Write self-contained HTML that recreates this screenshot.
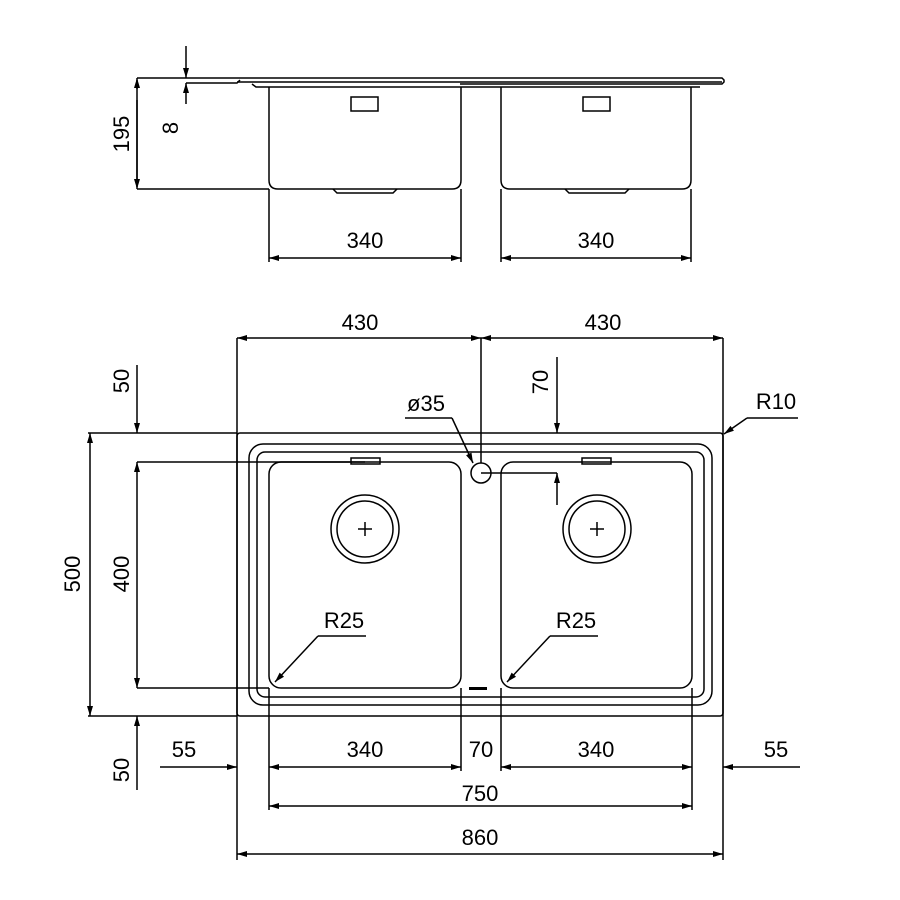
<!DOCTYPE html>
<html><head><meta charset="utf-8"><style>html,body{margin:0;padding:0;background:#fff}svg{display:block}</style></head>
<body>
<svg width="900" height="900" viewBox="0 0 900 900" xmlns="http://www.w3.org/2000/svg" font-family="Liberation Sans, sans-serif" font-size="22" fill="none" stroke="#000" stroke-width="1.5">
<defs>
<marker id="a" viewBox="0 0 10 6" refX="10" refY="3" markerWidth="12" markerHeight="6" markerUnits="userSpaceOnUse" orient="auto-start-reverse"><path d="M0,0 L10,3 L0,6 Z" fill="#000" stroke="none"/></marker>
</defs>
<!-- TOP VIEW -->
<path d="M186,78 H722 L724,80 V82 L722,84 H460"/>
<path d="M186,83 H237 L240,80"/>
<path d="M237,82 H722"/>
<path d="M252,84 L256,87 H700"/>
<path d="M269,87 V180 Q269,189 278,189 H452 Q461,189 461,180 V87"/>
<path d="M333,189 L337,193 H393 L397,189"/>
<rect x="351" y="97" width="27" height="14"/>
<path d="M501,87 V180 Q501,189 510,189 H682 Q691,189 691,180 V87"/>
<path d="M565,189 L569,193 H625 L629,189"/>
<rect x="583" y="97" width="27" height="14"/>
<!-- top dims -->
<path d="M137,78 H186 M137,189 H269"/>
<line x1="137" y1="89" x2="137" y2="78" marker-end="url(#a)"/>
<line x1="137" y1="100" x2="137" y2="189" marker-end="url(#a)"/>
<line x1="137" y1="80" x2="137" y2="187"/>
<line x1="186" y1="46" x2="186" y2="78" marker-end="url(#a)"/>
<line x1="186" y1="104" x2="186" y2="83" marker-end="url(#a)"/>
<path d="M269,189 V262 M461,189 V262 M501,189 V262 M691,189 V262"/>
<line x1="269" y1="258" x2="461" y2="258" marker-start="url(#a)" marker-end="url(#a)"/>
<line x1="501" y1="258" x2="691" y2="258" marker-start="url(#a)" marker-end="url(#a)"/>
<g fill="#000" stroke="none">
<text x="365" y="248" text-anchor="middle">340</text>
<text x="596" y="248" text-anchor="middle">340</text>
<text transform="translate(129,134) rotate(-90)" text-anchor="middle">195</text>
<text transform="translate(178,128) rotate(-90)" text-anchor="middle">8</text>
</g>
<!-- PLAN VIEW -->
<rect x="237" y="433" width="486" height="283" rx="3"/>
<rect x="249" y="444" width="463" height="261" rx="14"/>
<rect x="257" y="452" width="447" height="245" rx="8"/>
<rect x="269" y="462" width="192" height="226" rx="12"/>
<rect x="501" y="462" width="191" height="226" rx="12"/>
<circle cx="481" cy="473" r="10"/>
<circle cx="365" cy="529" r="34"/><circle cx="365" cy="529" r="28"/>
<path d="M358,529 H372 M365,522 V536"/>
<circle cx="597" cy="529" r="34"/><circle cx="597" cy="529" r="28"/>
<path d="M590,529 H604 M597,522 V536"/>
<rect x="351" y="458" width="29" height="6"/>
<rect x="582" y="458" width="29" height="6"/>
<rect x="469" y="687" width="18" height="3" fill="#000" stroke="none"/>
<!-- plan dims -->
<path d="M237,338 V860 M723,338 V860 M481,338 V463"/>
<line x1="237" y1="338" x2="481" y2="338" marker-start="url(#a)" marker-end="url(#a)"/>
<line x1="481" y1="338" x2="723" y2="338" marker-start="url(#a)" marker-end="url(#a)"/>
<path d="M88,433 H237 M88,716 H237 M137,462 H365 M137,688 H269"/>
<line x1="90" y1="433" x2="90" y2="716" marker-start="url(#a)" marker-end="url(#a)"/>
<line x1="137" y1="462" x2="137" y2="688" marker-start="url(#a)" marker-end="url(#a)"/>
<line x1="137" y1="365" x2="137" y2="433" marker-end="url(#a)"/>
<line x1="137" y1="790" x2="137" y2="716" marker-end="url(#a)"/>
<path d="M481,473 H557"/>
<line x1="557" y1="357" x2="557" y2="433" marker-end="url(#a)"/>
<line x1="557" y1="505" x2="557" y2="473" marker-end="url(#a)"/>
<path d="M269,688 V810 M461,688 V771 M501,688 V771 M692,688 V810"/>
<line x1="160" y1="767" x2="237" y2="767" marker-end="url(#a)"/>
<line x1="269" y1="767" x2="461" y2="767" marker-start="url(#a)" marker-end="url(#a)"/>
<line x1="501" y1="767" x2="692" y2="767" marker-start="url(#a)" marker-end="url(#a)"/>
<line x1="800" y1="767" x2="723" y2="767" marker-end="url(#a)"/>
<line x1="269" y1="806" x2="692" y2="806" marker-start="url(#a)" marker-end="url(#a)"/>
<line x1="237" y1="854" x2="723" y2="854" marker-start="url(#a)" marker-end="url(#a)"/>
<!-- leaders -->
<path d="M405,418 H452"/><line x1="452" y1="418" x2="473" y2="463" marker-end="url(#a)"/>
<path d="M798,418 H747"/><line x1="747" y1="418" x2="724" y2="434" marker-end="url(#a)"/>
<path d="M366,636 H318"/><line x1="318" y1="636" x2="275" y2="682" marker-end="url(#a)"/>
<path d="M598,636 H550"/><line x1="550" y1="636" x2="507" y2="682" marker-end="url(#a)"/>
<g fill="#000" stroke="none">
<text x="360" y="330" text-anchor="middle">430</text>
<text x="603" y="330" text-anchor="middle">430</text>
<text x="426" y="411" text-anchor="middle">ø35</text>
<text x="776" y="409" text-anchor="middle">R10</text>
<text x="344" y="628" text-anchor="middle">R25</text>
<text x="576" y="628" text-anchor="middle">R25</text>
<text x="184" y="757" text-anchor="middle">55</text>
<text x="365" y="757" text-anchor="middle">340</text>
<text x="481" y="757" text-anchor="middle">70</text>
<text x="596" y="757" text-anchor="middle">340</text>
<text x="776" y="757" text-anchor="middle">55</text>
<text x="480" y="801" text-anchor="middle">750</text>
<text x="480" y="845" text-anchor="middle">860</text>
<text transform="translate(80,574) rotate(-90)" text-anchor="middle">500</text>
<text transform="translate(129,574) rotate(-90)" text-anchor="middle">400</text>
<text transform="translate(129,381) rotate(-90)" text-anchor="middle">50</text>
<text transform="translate(129,770) rotate(-90)" text-anchor="middle">50</text>
<text transform="translate(548,382) rotate(-90)" text-anchor="middle">70</text>
</g>
</svg>
</body></html>
